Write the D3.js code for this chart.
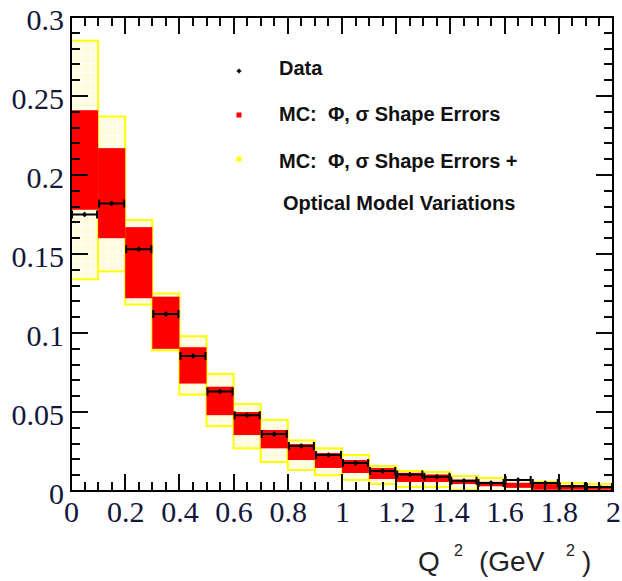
<!DOCTYPE html>
<html>
<head>
<meta charset="utf-8">
<script src="https://cdn.jsdelivr.net/npm/d3@7"></script>
<style>
  html, body { margin: 0; padding: 0; background: #fff; }
  svg { display: block; }
</style>
</head>
<body>
<svg id="chart" width="622" height="581"></svg>
<script>
// ---- data ----
const binLow  = [0.0,0.1,0.2,0.3,0.4,0.5,0.6,0.7,0.8,0.9,1.0,1.1,1.2,1.3,1.4,1.5,1.6,1.7,1.8,1.9];
const binHigh = [0.1,0.2,0.3,0.4,0.5,0.6,0.7,0.8,0.9,1.0,1.1,1.2,1.3,1.4,1.5,1.6,1.7,1.8,1.9,2.0];
const dataVal = [0.175,0.182,0.153,0.112,0.0855,0.063,0.048,0.036,0.0285,0.0228,0.0177,0.0127,0.0105,0.009,0.0065,0.005,0.007,0.005,0.003,0.0025];
const dataErr = [0.0015,0.0015,0.0013,0.0011,0.001,0.0009,0.0008,0.0007,0.0006,0.0006,0.0005,0.0005,0.0004,0.0004,0.0004,0.0003,0.0003,0.0003,0.0003,0.0003];
const redHi   = [0.241,0.217,0.167,0.123,0.091,0.066,0.050,0.0386,0.0297,0.024,0.0196,0.0146,0.0115,0.0105,0.0072,0.0058,0.0052,0.0044,0.0038,0.0032];
const redLo   = [0.178,0.160,0.122,0.090,0.068,0.048,0.0354,0.027,0.0196,0.0146,0.0114,0.0076,0.0057,0.0057,0.0044,0.003,0.002,0.0008,0.0008,0.0008];
const yelHi   = [0.285,0.237,0.1715,0.125,0.098,0.074,0.055,0.045,0.032,0.027,0.0228,0.0158,0.0127,0.012,0.0095,0.0082,0.007,0.0058,0.005,0.0044];
const yelLo   = [0.134,0.139,0.118,0.089,0.061,0.041,0.027,0.0184,0.0133,0.010,0.007,0.0044,0.0025,0.0025,0.0006,0.0,0.0,0.0,0.0,0.0];
const xTickValues = [0,0.2,0.4,0.6,0.8,1,1.2,1.4,1.6,1.8,2];
const xTickLabels = ["0","0.2","0.4","0.6","0.8","1","1.2","1.4","1.6","1.8","2"];
const yTickValues = [0,0.05,0.1,0.15,0.2,0.25,0.3];
const yTickLabels = ["0","0.05","0.1","0.15","0.2","0.25","0.3"];
const legendLabels = ["Data", "MC:  \u03A6, \u03C3 Shape Errors", "MC:  \u03A6, \u03C3 Shape Errors +", "Optical Model Variations"];

const bins = binLow.map((lo, i) => ({lo, hi: binHigh[i], v: dataVal[i], e: dataErr[i],
  rHi: redHi[i], rLo: redLo[i], yHi: yelHi[i], yLo: yelLo[i]}));

// ---- layout ----
const svg = d3.select("#chart");
const x = d3.scaleLinear().domain([0, 2]).range([71, 613]);
const y = d3.scaleLinear().domain([0, 0.3]).range([491, 17]);

svg.append("rect").attr("width", 622).attr("height", 581).attr("fill", "#fff");

const defs = svg.append("defs");
const pat = defs.append("pattern").attr("id", "cream").attr("patternUnits", "userSpaceOnUse")
  .attr("width", 9).attr("height", 9);
pat.append("rect").attr("width", 9).attr("height", 9).attr("fill", "#fffbdc");
pat.append("path").attr("d", "M0,0.5H9M0.5,0V9").attr("stroke", "#ffffff").attr("stroke-width", 1);

const plot = svg.append("g");

// yellow band
plot.selectAll("rect.yel").data(bins).enter().append("rect")
  .attr("class", "yel")
  .attr("x", d => x(d.lo)).attr("width", d => x(d.hi) - x(d.lo))
  .attr("y", d => y(d.yHi)).attr("height", d => y(d.yLo) - y(d.yHi))
  .attr("fill", "url(#cream)").attr("stroke", "#ffff00").attr("stroke-width", 2);

// red band
plot.selectAll("rect.red").data(bins).enter().append("rect")
  .attr("class", "red")
  .attr("x", d => x(d.lo)).attr("width", d => x(d.hi) - x(d.lo))
  .attr("y", d => y(d.rHi)).attr("height", d => Math.max(1, y(d.rLo) - y(d.rHi)))
  .attr("fill", "#ff0000");

// data points with error bars
const pts = plot.selectAll("g.pt").data(bins).enter().append("g").attr("class", "pt");
pts.append("path")
  .attr("d", d => {
    const a = x(d.lo) + 1, b = x(d.hi) - 1, c = y(d.v);
    return `M${a},${c}H${b}M${a},${c - 4}V${c + 4}M${b},${c - 4}V${c + 4}`;
  })
  .attr("fill", "none").attr("stroke", "#000").attr("stroke-width", 2);
pts.append("path")
  .attr("d", d => {
    const m = x((d.lo + d.hi) / 2);
    return `M${m},${Math.min(y(d.v + d.e), y(d.v) - 2.5)}V${Math.max(y(d.v - d.e), y(d.v) + 2.5)}`;
  })
  .attr("fill", "none").attr("stroke", "#000").attr("stroke-width", 1.5);
pts.append("circle")
  .attr("cx", d => x((d.lo + d.hi) / 2)).attr("cy", d => y(d.v)).attr("r", 2)
  .attr("fill", "#000");

// ---- axes ----
const labelColor = "#14163a";
const serif = "'Liberation Serif', 'DejaVu Serif', serif";
const xMinor = d3.range(0, 2.0001, 0.05).filter(v => Math.abs(v * 5 - Math.round(v * 5)) > 1e-6);
const yMinor = d3.range(0, 0.3001, 0.01).filter(v => Math.abs(v * 20 - Math.round(v * 20)) > 1e-6);

const gB = svg.append("g").attr("transform", `translate(0,${y(0)})`);
gB.call(d3.axisBottom(x).tickValues(xTickValues).tickFormat((d, i) => xTickLabels[i])
  .tickSize(0).tickPadding(10));
gB.select("path.domain").remove();
gB.selectAll("text").attr("fill", labelColor).attr("font-family", serif).attr("font-size", 30);

const gL = svg.append("g").attr("transform", `translate(${x(0)},0)`);
gL.call(d3.axisLeft(y).tickValues(yTickValues).tickFormat((d, i) => yTickLabels[i])
  .tickSize(0).tickPadding(7));
gL.select("path.domain").remove();
gL.selectAll("text").attr("fill", labelColor).attr("font-family", serif).attr("font-size", 30)
  .attr("dy", "0.43em");

// inward tick marks on all four sides, as filled rectangles
const X0 = x(0), X1 = x(2), Y0 = y(0), Y1 = y(0.3);
const tickG = svg.append("g").attr("fill", "#0a0a0a");
function addX(vals, len) {
  vals.forEach(v => {
    const px = Math.round(x(v)) - 1;
    tickG.append("rect").attr("x", px).attr("y", Y0 - len).attr("width", 2).attr("height", len);
    tickG.append("rect").attr("x", px).attr("y", Y1).attr("width", 2).attr("height", len);
  });
}
function addY(vals, len) {
  vals.forEach(v => {
    const py = Math.round(y(v)) - 1;
    tickG.append("rect").attr("x", X0).attr("y", py).attr("width", len).attr("height", 2);
    tickG.append("rect").attr("x", X1 - len).attr("y", py).attr("width", len).attr("height", 2);
  });
}
addX(xTickValues, 17);
addX(xMinor, 9);
addY(yTickValues, 17);
addY(yMinor, 9);
svg.append("rect").attr("x", X0).attr("y", Y1).attr("width", X1 - X0).attr("height", Y0 - Y1)
  .attr("fill", "none").attr("stroke", "#000").attr("stroke-width", 2);

// ---- axis title ----
const sans = "'Liberation Sans', Arial, sans-serif";
const title = svg.append("g").attr("fill", "#222").attr("font-family", sans);
title.append("text").attr("x", 418).attr("y", 571).attr("font-size", 28).text("Q");
title.append("text").attr("x", 454).attr("y", 556).attr("font-size", 16).text("2");
title.append("text").attr("x", 479).attr("y", 571).attr("font-size", 28).text("(GeV");
title.append("text").attr("x", 566).attr("y", 556).attr("font-size", 16).text("2");
title.append("text").attr("x", 582).attr("y", 571).attr("font-size", 28).text(")");

// ---- legend ----
const leg = svg.append("g").attr("font-family", sans).attr("font-weight", "bold")
  .attr("font-size", 20).attr("fill", "#111");
const legY = [74.5, 121, 168, 210];
const legX = [279, 279, 279, 283];
legendLabels.forEach((t, i) => {
  leg.append("text").attr("x", legX[i]).attr("y", legY[i]).style("white-space", "pre").text(t);
});
leg.append("circle").attr("cx", 239).attr("cy", 71).attr("r", 1.8).attr("fill", "#000");
leg.append("path").attr("d", "M236.5,71H241.5M239,68.5V73.5").attr("stroke", "#000").attr("stroke-width", 1);
leg.append("rect").attr("x", 236.5).attr("y", 112.5).attr("width", 5).attr("height", 5).attr("fill", "#ff0000");
leg.append("rect").attr("x", 236.5).attr("y", 156.5).attr("width", 5).attr("height", 5).attr("fill", "#ffff00");
</script>
</body>
</html>
